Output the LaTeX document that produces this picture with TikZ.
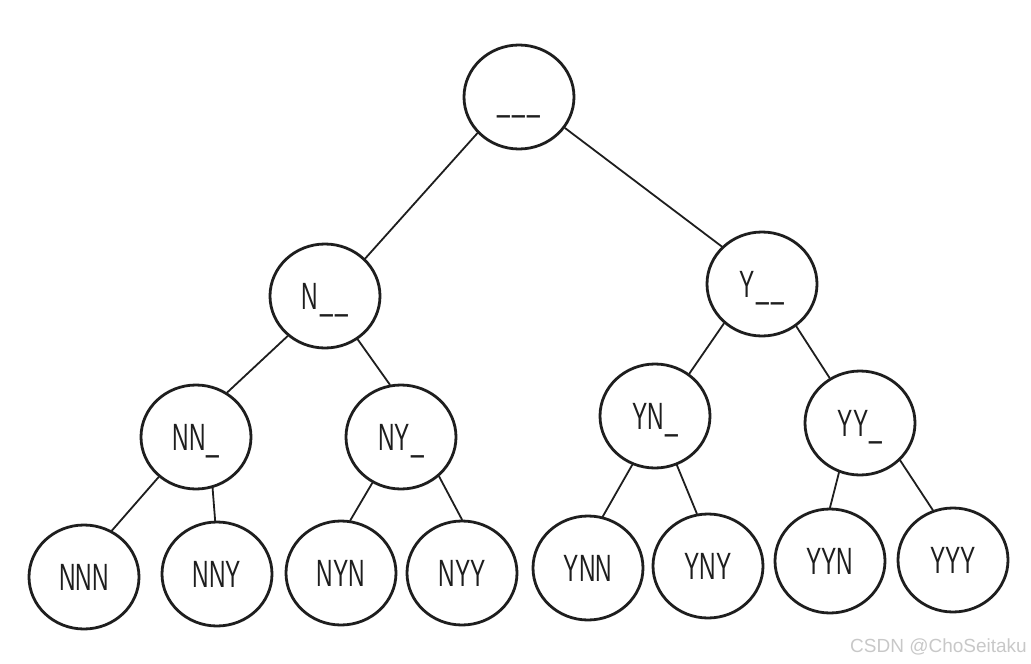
\documentclass[tikz,border=0pt]{standalone}
\usepackage{fontspec}
\usepackage{graphicx}
\setmainfont{Liberation Sans}
\usetikzlibrary{shapes.geometric}
\definecolor{ink}{RGB}{30,30,30}
\definecolor{wm}{RGB}{200,200,200}
\newcommand{\lbl}[1]{\scalebox{0.6}[1]{#1}}
\newcommand{\us}{\_\kern4pt}
\tikzset{
  tnode/.style={ellipse, draw=ink, line width=2.8pt, minimum width=110pt, minimum height=104pt,
    inner sep=0pt, text=ink, font=\fontsize{38}{40}\selectfont, text height=27pt, text depth=0pt},
  edge/.style={draw=ink, line width=1.8pt, line cap=round}
}
\begin{document}
\begin{tikzpicture}[x=1pt,y=-1pt]
\useasboundingbox (0,0) rectangle (1031,664);
% level 0
\node[tnode] (r) at (519,97) {\lbl{\us\us\_}};
% level 1
\node[tnode] (n) at (325,296) {\lbl{N\kern3pt\us\_}};
\node[tnode] (y) at (762,284) {\lbl{Y\kern3pt\us\_}};
% level 2
\node[tnode] (nn) at (196,437) {\lbl{NN\kern2pt\_}};
\node[tnode] (ny) at (401,437) {\lbl{NY\kern2pt\_}};
\node[tnode] (yn) at (655,416) {\lbl{YN\kern2pt\_}};
\node[tnode] (yy) at (860,423) {\lbl{YY\kern2pt\_}};
% level 3
\node[tnode] (nnn) at (84,577) {\lbl{NNN}};
\node[tnode] (nny) at (217,574) {\lbl{NNY}};
\node[tnode] (nyn) at (341,573) {\lbl{NYN}};
\node[tnode] (nyy) at (462,573) {\lbl{NYY}};
\node[tnode] (ynn) at (588,568) {\lbl{YNN}};
\node[tnode] (yny) at (708,566) {\lbl{YNY}};
\node[tnode] (yyn) at (830,561) {\lbl{YYN}};
\node[tnode] (yyy) at (953,560) {\lbl{YYY}};
% connectors
\draw[edge] (r.-139) -- (n.43);
\draw[edge] (r.-34) -- (y.137);
\draw[edge] (n.-133) -- (nn.55);
\draw[edge] (n.-53) -- (ny.102);
\draw[edge] (y.-134) -- (yn.51);
\draw[edge] (y.-51) -- (yy.124);
\draw[edge] (nn.-133) -- (nnn.59);
\draw[edge] (nn.-72) -- (nny.92);
\draw[edge] (ny.-122) -- (nyn.80);
\draw[edge] (ny.-46) -- (nyy.90);
\draw[edge] (yn.-115) -- (ynn.74);
\draw[edge] (yn.-66) -- (yny.102);
\draw[edge] (yy.-113) -- (yyn.90);
\draw[edge] (yy.-43) -- (yyy.112);
% watermark
\node[anchor=base east, inner sep=0pt, text=wm, font=\fontsize{19}{21}\selectfont] (wmk) at (1027,652) {CSDN @ChoSeitaku};
\end{tikzpicture}
\end{document}
